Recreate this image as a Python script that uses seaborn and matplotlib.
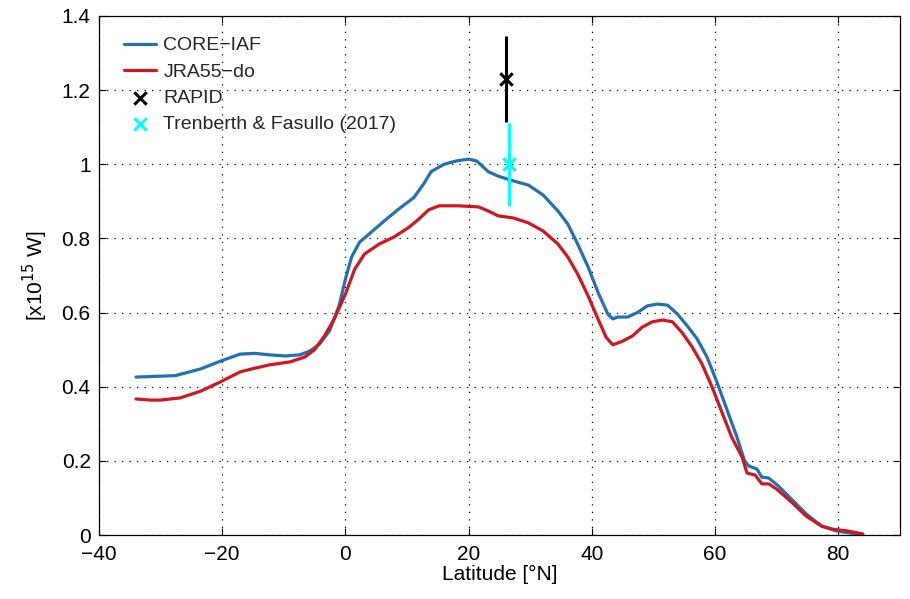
import numpy as np
import pandas as pd
import matplotlib
matplotlib.use("Agg")
import matplotlib.pyplot as plt
import seaborn as sns

core_lat = [-34.0, -27.6, -23.5, -20.3, -17.1, -14.7, -12.3, -9.8, -7.4, -5.8, -4.2, -2.6, -1.0, 0.0, 1.0,
            2.3, 4.2, 6.3, 8.7, 11.1, 12.7, 13.9, 16.0, 18.0, 20.0, 21.3, 23.2, 24.8, 27.3, 29.7,
            32.1, 34.5, 36.1, 37.7, 39.4, 41.0, 42.6, 43.4, 44.2, 45.8, 47.4, 49.0, 50.6, 52.3,
            53.9, 55.5, 57.1, 58.7, 60.3, 61.9, 63.5, 64.8, 65.5, 66.8, 67.6, 68.7, 70.3, 72.4,
            74.8, 77.3, 79.7, 82.1, 83.2]
core_val = [0.426, 0.43, 0.448, 0.469, 0.488, 0.49, 0.486, 0.483, 0.486, 0.496, 0.515, 0.55, 0.62, 0.69, 0.75,
            0.79, 0.817, 0.847, 0.88, 0.91, 0.947, 0.98, 1.0, 1.009, 1.014, 1.009, 0.98, 0.968, 0.955, 0.944,
            0.917, 0.874, 0.839, 0.785, 0.723, 0.655, 0.596, 0.583, 0.588, 0.588, 0.60, 0.618, 0.623, 0.62,
            0.596, 0.564, 0.529, 0.48, 0.413, 0.34, 0.267, 0.20, 0.186, 0.178, 0.156, 0.154, 0.132, 0.097,
            0.057, 0.024, 0.011, 0.005, 0.003]

jra_lat = [-34.0, -31.6, -30.0, -26.8, -23.5, -20.3, -17.1, -14.7, -12.3, -9.0, -6.6, -5.0, -3.4, -1.8, 0.0,
           1.5, 3.1, 5.5, 7.9, 10.3, 11.9, 13.5, 15.2, 18.4, 21.6, 23.2, 24.8, 27.3, 29.7, 32.1,
           34.5, 36.1, 37.7, 39.4, 41.0, 42.3, 43.4, 45.0, 46.6, 48.2, 49.8, 51.5, 53.1, 54.7,
           56.3, 57.9, 59.5, 61.1, 62.7, 64.4, 65.2, 66.5, 67.6, 68.7, 70.0, 72.4, 74.8, 77.3,
           79.0, 81.5, 84.0]
jra_val = [0.367, 0.364, 0.364, 0.37, 0.388, 0.413, 0.44, 0.45, 0.459, 0.467, 0.48, 0.50, 0.537, 0.583, 0.65,
           0.717, 0.758, 0.785, 0.804, 0.83, 0.852, 0.877, 0.888, 0.888, 0.885, 0.874, 0.861, 0.855, 0.842, 0.82,
           0.785, 0.75, 0.704, 0.645, 0.583, 0.534, 0.513, 0.523, 0.537, 0.561, 0.575, 0.58, 0.575, 0.545,
           0.507, 0.461, 0.40, 0.332, 0.264, 0.21, 0.167, 0.162, 0.138, 0.138, 0.124, 0.089, 0.051, 0.024,
           0.016, 0.011, 0.003]

rapid_lat = [26.1]
rapid_val = [1.23]
rapid_err = [0.115]
tf_lat = [26.6]
tf_val = [1.0]
tf_err = [0.112]

x_ticks = [-40, -20, 0, 20, 40, 60, 80]
y_ticks = [0, 0.2, 0.4, 0.6, 0.8, 1.0, 1.2, 1.4]
y_ticklabels = ["0", "0.2", "0.4", "0.6", "0.8", "1", "1.2", "1.4"]

sns.set_theme(style="white")
plt.rcParams['font.family'] = ['Liberation Sans', 'DejaVu Sans']
plt.rcParams['axes.unicode_minus'] = True

fig = plt.figure(figsize=(9.1, 5.99), dpi=100)
ax = fig.add_axes([0.1088, 0.1068, 0.880, 0.8665])

blue = "#2470b5"
red = "#d0161e"

df_core = pd.DataFrame({"lat": core_lat, "val": core_val})
df_jra = pd.DataFrame({"lat": jra_lat, "val": jra_val})
sns.lineplot(data=df_core, x="lat", y="val", ax=ax, color=blue, lw=2.3, label="CORE\u2212IAF",
             sort=False, estimator=None)
sns.lineplot(data=df_jra, x="lat", y="val", ax=ax, color=red, lw=2.3, label="JRA55\u2212do",
             sort=False, estimator=None)

ax.errorbar(rapid_lat, rapid_val, yerr=rapid_err, fmt="none", ecolor="black", elinewidth=2.2, capsize=0)
ax.errorbar(tf_lat, tf_val, yerr=tf_err, fmt="none", ecolor="#00ffff", elinewidth=2.2, capsize=0)
sns.scatterplot(x=rapid_lat, y=rapid_val, ax=ax, marker="x", color="black", s=80, linewidth=2.2,
                label="RAPID", zorder=5)
sns.scatterplot(x=tf_lat, y=tf_val, ax=ax, marker="x", color="#00ffff", s=80, linewidth=2.2,
                label="Trenberth & Fasullo (2017)", zorder=5)

ax.set_xlim(-40, 90)
ax.set_ylim(0, 1.4)
ax.set_xticks(x_ticks)
ax.set_xticklabels([("\u2212" + str(-t)) if t < 0 else str(t) for t in x_ticks])
ax.set_yticks(y_ticks)
ax.set_yticklabels(y_ticklabels)
ax.tick_params(axis="both", direction="in", length=5, width=0.8, labelsize=15, colors="black",
               top=True, right=True, bottom=True, left=True)
ax.tick_params(axis="x", pad=7)
ax.tick_params(axis="y", pad=6)
ax.grid(True, color="black", linestyle=(0, (1, 5)), linewidth=0.9)
for s in ax.spines.values():
    s.set_visible(True)
    s.set_color("black")
    s.set_linewidth(0.9)

ax.set_xlabel("Latitude [\u00b0N]", fontsize=15, color="black", labelpad=1)
ax.set_ylabel(r"[x10$^{15}$ W]", fontsize=15, color="black", labelpad=8)

leg = ax.legend(loc="upper left", bbox_to_anchor=(0.022, 0.975), frameon=False, fontsize=14,
                handlelength=1.6, borderaxespad=0.0, handletextpad=0.4, labelspacing=0.45)

fig.savefig("out.png", dpi=100)
